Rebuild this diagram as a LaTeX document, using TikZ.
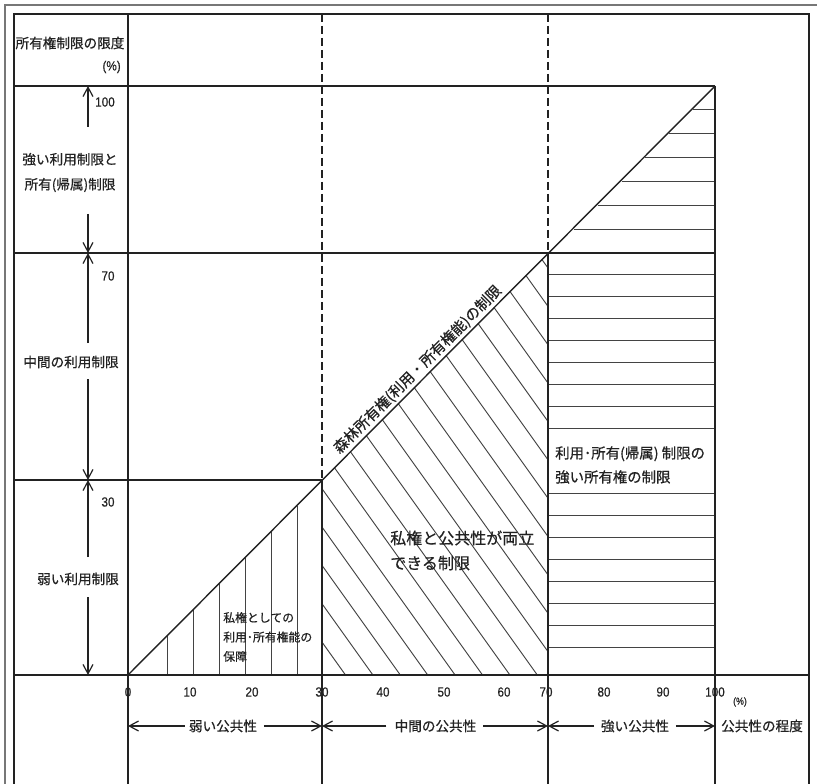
\documentclass[tikz,border=0pt]{standalone}
\usepackage{fontspec}
\newfontfamily\jp{Noto Sans CJK JP}[FakeBold=0.6]
\newfontfamily\numfont{Liberation Sans}[FakeStretch=0.88,FakeBold=0.4]
\usetikzlibrary{arrows.meta}
\definecolor{ink}{HTML}{222222}
\definecolor{frameg}{HTML}{777777}
\begin{document}
\begin{tikzpicture}[x=0.75pt,y=-0.75pt,
  main/.style={draw=ink,line width=1.05pt},
  hatch/.style={draw=ink!85,line width=0.7pt},
  dashline/.style={draw=ink,line width=1.05pt,dash pattern=on 6pt off 3pt},
  arr/.style={draw=ink,line width=0.9pt,-{Straight Barb[length=7pt,width=7.5pt,line width=0.9pt]}},
  jl/.style={font=\jp\fontsize{10.2}{18.75}\selectfont,text=ink,inner sep=0pt},
  jm/.style={font=\jp\fontsize{12}{18.75}\selectfont,text=ink,inner sep=0pt},
  js/.style={font=\jp\fontsize{8.9}{14.6}\selectfont,text=ink,inner sep=0pt},
  jr/.style={font=\jp\fontsize{10.8}{18}\selectfont,text=ink,inner sep=0pt},
  num/.style={font=\numfont\fontsize{10}{12}\selectfont,text=ink,inner sep=0pt},
  numsm/.style={font=\numfont\fontsize{7.5}{9}\selectfont,text=ink,inner sep=0pt}]
\useasboundingbox (0,0) rectangle (817,784);
\fill[white] (0,0) rectangle (817,784);
% frames
\draw[frameg,line width=1.5pt] (5,784) -- (5,5) -- (817,5);
\draw[ink,line width=1.5pt] (14,784) -- (14,14) -- (809,14) -- (809,784);
% key points
\coordinate (O) at (128,675);
\coordinate (P30) at (322,480);
\coordinate (P70) at (548,253);
\coordinate (P100) at (715,86);
% hatching: left region
\foreach \x in {167,193,219,245,271,297}
  \draw[hatch] (\x,675) -- (\x,{803-\x});
% hatching: right upper triangle
\foreach \k in {1,...,6}
  \draw[hatch] ({803-(86+23.86*\k)},{86+23.86*\k}) -- (715,{86+23.86*\k});
% hatching: right lower block
\foreach \k in {1,...,8,11,12,13,14,15,16,17,18}
  \draw[hatch] (548,{253+21.9*\k}) -- (715,{253+21.9*\k});
% hatching: middle region
\begin{scope}
  \clip (P30) -- (P70) -- (548,675) -- (322,675) -- cycle;
  \foreach \k in {-11,...,7}{
    \pgfmathsetmacro\xb{537.3-27.4*\k}
    \draw[hatch] (300,{675+1.4*(300-\xb)}) -- (560,{675+1.4*(560-\xb)});
  }
\end{scope}
% grid lines
\draw[main] (14,86) -- (P100);
\draw[main] (14,253) -- (715,253);
\draw[main] (14,480) -- (P30);
\draw[main] (14,675) -- (809,675);
\draw[main] (128,14) -- (128,784);
\draw[dashline] (322,14) -- (P30);
\draw[main] (P30) -- (322,784);
\draw[dashline] (548,14) -- (P70);
\draw[main] (P70) -- (548,784);
\draw[main] (P100) -- (715,784);
\draw[main] (O) -- (P100);
% left header and labels
\node[jl] (hdr) at (70,43) {所有権制限の限度};
\node[num,anchor=east] (pcty) at (121,67) {(\%)};
\node[num] (n100) at (105,102) {100};
\node[jl,align=center] (strong) at (70,172.5) {強い利用制限と\\所有(帰属)制限};
\node[num] (n70) at (108,276) {70};
\node[jl] (midr) at (71,362) {中間の利用制限};
\node[num] (n30) at (108,502) {30};
\node[jl] (weakr) at (78,579) {弱い利用制限};
% left dimension arrows
\coordinate (ya) at (88,127); \coordinate (yb) at (88,86);
\coordinate (yc) at (88,214); \coordinate (yd) at (88,253);
\coordinate (ye) at (88,343); \coordinate (yf) at (88,379);
\coordinate (yg) at (88,480); \coordinate (yh) at (88,557);
\coordinate (yi) at (88,597); \coordinate (yj) at (88,675);
\draw[arr] (ya) -- (yb);
\draw[arr] (yc) -- (yd);
\draw[arr] (ye) -- (yd);
\draw[arr] (yf) -- (yg);
\draw[arr] (yh) -- (yg);
\draw[arr] (yi) -- (yj);
% x tick labels
\foreach \lab/\xp in {0/128,10/190,20/252,30/322,40/383,50/444,60/504,70/546,80/604,90/663,100/715}
  \node[num] (t\lab) at (\xp,692) {\lab};
\node[numsm] (pctx) at (740,702) {(\%)};
% bottom labels and arrows
\coordinate (b0) at (128,726); \coordinate (b30) at (322,726);
\coordinate (b70) at (548,726); \coordinate (b100) at (715,726);
\node[jl] (wpub) at (223,726) {弱い公共性};
\node[jl] (mpub) at (435.5,726) {中間の公共性};
\node[jl] (spub) at (635,726) {強い公共性};
\node[jl] (deg) at (762,726) {公共性の程度};
\draw[arr,shorten <=3pt] (wpub) -- (b0);
\draw[arr,shorten <=5pt] (wpub) -- (b30);
\draw[arr,shorten <=6pt] (mpub) -- (b30);
\draw[arr,shorten <=5pt] (mpub) -- (b70);
\draw[arr,shorten <=5pt] (spub) -- (b70);
\draw[arr,shorten <=5pt] (spub) -- (b100);
% region texts
\node[jl,font=\jp\fontsize{11}{13}\selectfont,rotate=45,anchor=south,inner sep=2.5pt] (diag) at (425.5,377.5) {森林所有権(利用・所有権能)の制限};
\node[jm,align=left,anchor=west] (compat) at (390,550.5) {私権と公共性が両立\\できる制限};
\node[js,align=left,anchor=west] (guar) at (223,637) {私権としての\\利用･所有権能の\\保障};
\node[jr,align=left,anchor=west] (strongown) at (555,465) {利用･所有(帰属) 制限の\\強い所有権の制限};
\end{tikzpicture}
\end{document}
